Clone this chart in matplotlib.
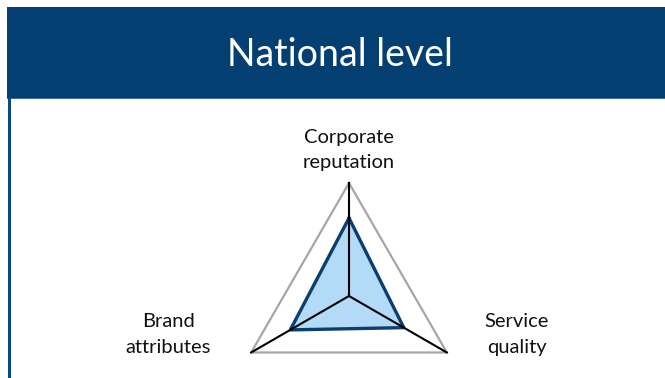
import numpy as np
import matplotlib
matplotlib.use("Agg")
import matplotlib.pyplot as plt
from matplotlib.patches import Rectangle

# ---- data ----
title = "National level"
categories = ["Corporate\nreputation", "Service\nquality", "Brand\nattributes"]
values = [0.69, 0.56, 0.60]
r_max = 1.0

W, H = 665, 378
DPI = 100
plt.rcParams['font.family'] = ['Lato', 'DejaVu Sans']

fig = plt.figure(figsize=(W / DPI, H / DPI), dpi=DPI)
fig.patch.set_facecolor('white')

def fx(px):
    return px / W

def fy(py):
    return 1 - py / H

header_col = '#033F71'
# header band
fig.patches.append(Rectangle((fx(7), fy(98)), fx(665) - fx(7), fy(7) - fy(98),
                             transform=fig.transFigure, facecolor=header_col,
                             edgecolor='none', zorder=0))
fig.patches.append(Rectangle((fx(7), fy(99)), fx(665) - fx(7), fy(98) - fy(99),
                             transform=fig.transFigure, facecolor='#3A6E9E',
                             edgecolor='none', zorder=0))
# left border
fig.patches.append(Rectangle((fx(8), 0), fx(3), fy(98),
                             transform=fig.transFigure, facecolor='#0B4A82',
                             edgecolor='none', zorder=0))
fig.text(fx(340), fy(55), title, color='white', fontsize=27,
         ha='center', va='center')

# ---- radar ----
cx, cy, R = 349, 296, 113
ax = fig.add_axes([fx(cx - R), fy(cy + R), 2 * R / W, 2 * R / H], polar=True)
ax.set_theta_offset(np.pi / 2)
ax.set_theta_direction(-1)
ax.set_ylim(0, r_max)
ax.set_axis_off()

n = len(categories)
angles = np.arange(n) * 2 * np.pi / n
closed_a = np.append(angles, angles[0])

# outer grid triangle
ax.plot(closed_a, [r_max] * (n + 1), color='#A6A6A6', lw=1.6, clip_on=False, zorder=1)
# spokes
for a in angles:
    ax.plot([a, a], [0, r_max], color='black', lw=1.5, clip_on=False, zorder=3)
# data polygon
vals = np.append(values, values[0])
ax.fill(closed_a, vals, color='#B3DAF7', zorder=2, clip_on=False)
ax.plot(closed_a, vals, color='#0A3F6E', lw=2.4, zorder=2.5, clip_on=False)

offsets = [(0, 33), (70, 18), (-83, 18)]
for a, lab, off in zip(angles, categories, offsets):
    ax.annotate(lab, xy=(a, r_max), xytext=off, textcoords='offset pixels',
                ha='center', va='center', fontsize=14.5, color='#111111',
                annotation_clip=False, linespacing=1.6)

fig.savefig('out.png', dpi=DPI)
